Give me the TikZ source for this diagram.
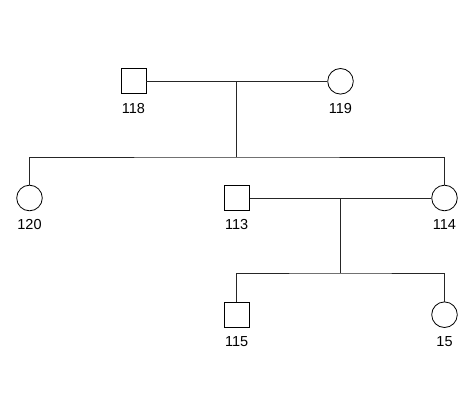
\documentclass[tikz,border=0pt]{standalone}
\usepackage{fontspec}
\setmainfont{Liberation Sans}
\begin{document}
\begin{tikzpicture}[x=1pt,y=-1pt,
  male/.style={draw, rectangle, minimum size=25pt, inner sep=0pt, line width=0.8pt},
  female/.style={draw, circle, minimum size=25.6pt, inner sep=0pt, line width=0.8pt},
  idlab/.style={font=\fontsize{14.5}{16}\selectfont, inner sep=0pt},
  link/.style={line width=0.8pt, draw=black!85}]
\useasboundingbox (0,0) rectangle (474,420);
\fill[white] (0,0) rectangle (474,420);
% generation I
\node[male] (p118) at (133.5,81.3) {};
\node[female] (p119) at (340.5,81.3) {};
\coordinate (m1) at (236.7,81.3);
\coordinate (s1) at (236.7,157);
% generation II
\node[female] (p120) at (29.5,198) {};
\node[male] (p113) at (236.7,198) {};
\node[female] (p114) at (444.5,198) {};
\coordinate (m2) at (340.5,198);
\coordinate (s2) at (340.5,273);
% generation III
\node[male] (p115) at (236.7,314.7) {};
\node[female] (p15) at (444.5,314.7) {};
% labels
\node[idlab] (l118) at (133.5,108.7) {118};
\node[idlab] (l119) at (340.5,108.7) {119};
\node[idlab] (l120) at (29.5,224.5) {120};
\node[idlab] (l113) at (236.7,224.5) {113};
\node[idlab] (l114) at (444.5,224.5) {114};
\node[idlab] (l115) at (236.7,342) {115};
\node[idlab] (l15) at (444.5,342) {15};
% connectors
\draw[link] (p118.east) -- (p119.west);
\draw[link] (m1) -- (s1);
\draw[link] (p120.north) |- (s1) -| (p114.north);
\draw[link] (p113.east) -- (p114.west);
\draw[link] (m2) -- (s2);
\draw[link] (p115.north) |- (s2) -| (p15.north);
\end{tikzpicture}
\end{document}
